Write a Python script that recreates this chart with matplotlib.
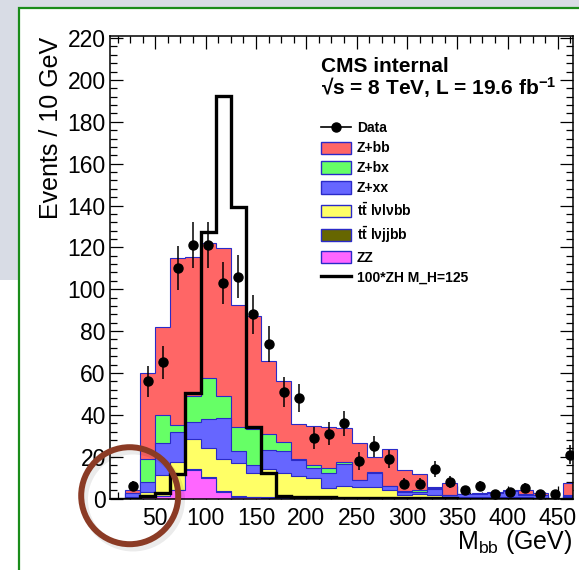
import numpy as np
import matplotlib
matplotlib.use("Agg")
import matplotlib.pyplot as plt
from matplotlib.patches import Patch, Rectangle, Circle
from matplotlib.lines import Line2D
from matplotlib.ticker import MultipleLocator

plt.rcParams['font.family'] = ['Liberation Sans', 'DejaVu Sans']
plt.rcParams['mathtext.default'] = 'regular'

# 15 GeV bins, 5 .. 470 GeV
bin_edges = np.arange(5, 471, 15)

# per-process yields (stacked bottom -> top)
zz = [0, 0, 0.5, 1, 4, 13.6, 10, 3, 0.8, 0.5, 0.3, 0.3, 0.2, 0.2, 0.1, 0.1,
      0.1, 0.1, 0.1, 0, 0, 0, 0, 0, 0, 0, 0, 0, 0, 0, 0]
tt_lvjjbb = [0, 0, 0, 0.3, 0.3, 0.4, 0.4, 0.4, 0.3, 0.3, 0.3, 0.2, 0.2, 0.2, 0.1, 0.1,
             0.1, 0.1, 0.1, 0, 0, 0, 0, 0, 0, 0, 0, 0, 0, 0, 0]
tt_lvlvbb = [0, 0.5, 2.8, 9.9, 13.3, 14.3, 13.6, 15.6, 15.9, 11.2, 13.4, 11.8, 10.4, 9.6, 4.8, 5.8,
             5.3, 5.3, 3.8, 1.7, 2.0, 1.5, 0.9, 0.7, 0.5, 0.5, 0.5, 0.5, 0.4, 0, 0.5]
z_xx = [0, 2.0, 4.7, 15.5, 14.4, 8.4, 13.9, 19.3, 5.5, 4.0, 9.2, 10.4, 7.6, 4.4, 7.0, 10.5,
        3.3, 6.5, 2.0, 1.6, 1.3, 3.0, 0.6, 1.3, 1.5, 2.0, 3.0, 1.0, 1.1, 0, 0.7]
z_bx = [0, 0, 10.8, 13.3, 3.3, 12.3, 19.5, 10.9, 11.7, 17.2, 7.6, 4.1, 0.3, 1.6, 2.4, 0.8,
        0.2, 0.5, 0.2, 0.2, 1.0, 0.3, 0.2, 0.2, 0.1, 0.1, 0.1, 0.7, 0.1, 0, 0.5]
z_bb = [0, 1.5, 41.4, 41.8, 79.5, 66.3, 64.6, 70.4, 58.3, 54.0, 35.1, 29.4, 16.8, 18.7, 19.9, 16.2,
        17.4, 7.5, 17.5, 10.1, 7.3, 0.9, 5.6, 0.0, 0.3, 0.7, 0.4, 1.8, 0.9, 0, 5.6]

# 100 x ZH, M_H = 125
signal = [0, 0, 1.2, 2.5, 11.7, 50.5, 127.2, 192.4, 139.5, 34.3, 12, 1.2, 0.8, 0.6, 0.5, 0.4,
          0.3, 0.3, 0.2, 0.2, 0.1, 0.1, 0.1, 0, 0, 0, 0, 0, 0, 0, 0]

data = [np.nan, 6, 56, 65, 110, 121, 121, 103, 106, 88, 74, 51, 48, 29, 31, 36,
        18, 25, 19, 7, 7, 14, 8, 4, 6, 2, 3, 5, 2, 2, 21]
data_err = [0, 2.4, 7.5, 8.1, 10.5, 11, 11, 10.1, 10.3, 9.4, 8.6, 7.1, 6.9, 5.4, 5.6, 6,
            4.2, 5, 4.4, 2.6, 2.6, 3.7, 2.8, 2, 2.4, 1.4, 1.7, 2.2, 1.4, 1.4, 4.6]

labels = ["ZZ", r"t$\bar{t}$ l$\nu$jjbb", r"t$\bar{t}$ l$\nu$l$\nu$bb", "Z+xx", "Z+bx", "Z+bb"]
colors = ["#ff66ff", "#666600", "#ffff66", "#6666ff", "#66ff66", "#ff6666"]
edge_col = "#2a2ac8"

W, H = 579, 570
fig = plt.figure(figsize=(W / 100, H / 100), dpi=100)

# slide background
bg = fig.add_axes([0, 0, 1, 1], zorder=0)
bg.set_xlim(0, W)
bg.set_ylim(H, 0)
bg.axis("off")
bg.add_patch(Rectangle((0, 0), W, 280, facecolor="#d8dce5", edgecolor="none"))
bg.add_patch(Rectangle((18.5, 7.5), 700, 700, facecolor="white", edgecolor="#1a8c1a", lw=1.6))

ax = fig.add_axes([110 / W, 1 - 498.5 / H, 463 / W, 462.5 / H], zorder=1)
centers = 0.5 * (bin_edges[:-1] + bin_edges[1:])

stack = np.cumsum(np.vstack([zz, tt_lvjjbb, tt_lvlvbb, z_xx, z_bx, z_bb]), axis=0)
for i in reversed(range(len(labels))):
    ax.stairs(stack[i], bin_edges, baseline=0, fill=True,
              facecolor=colors[i], edgecolor=edge_col, lw=0.8, zorder=2)

ax.stairs(signal, bin_edges, baseline=0, fill=False, color="black", lw=2.4, zorder=3)

ax.errorbar(centers, data, yerr=data_err, fmt="o", color="black", ms=6.5,
            elinewidth=1.1, capsize=0, zorder=4)

ax.set_xlim(5, 465)
ax.set_ylim(0, 221)
ax.xaxis.set_major_locator(MultipleLocator(50))
ax.xaxis.set_minor_locator(MultipleLocator(12.5))
ax.yaxis.set_major_locator(MultipleLocator(20))
ax.yaxis.set_minor_locator(MultipleLocator(4))
ax.tick_params(which="both", direction="in", top=True, right=True, width=0.9)
ax.tick_params(which="major", length=9.5, labelsize=16.5)
ax.tick_params(which="minor", length=5)
ax.tick_params(axis="x", pad=6)
ax.tick_params(axis="y", pad=3)
ax.set_xticks([50, 100, 150, 200, 250, 300, 350, 400, 450])
for s in ax.spines.values():
    s.set_linewidth(1.1)

fig.text(51 / W, 1 - 37 / H, "Events / 10 GeV", rotation=90, ha="center", va="top", fontsize=18)
fig.text(572 / W, 1 - 549 / H, r"M$_{bb}$ (GeV)", ha="right", va="baseline", fontsize=18)

fig.text(321 / W, 1 - 72 / H, "CMS internal", fontsize=15, fontweight="bold", va="baseline")
fig.text(321 / W, 1 - 95 / H, "\u221as = 8 TeV, L = 19.6 fb$^{-1}$", fontsize=15,
         fontweight="bold", va="baseline")

handles = [Line2D([], [], color="black", marker="o", ms=6.5, lw=1.2)]
names = ["Data"]
for i in reversed(range(len(labels))):
    handles.append(Patch(facecolor=colors[i], edgecolor=edge_col, lw=1))
    names.append(labels[i])
handles.append(Line2D([], [], color="black", lw=2.4))
names.append("100*ZH M_H=125")

leg = ax.legend(handles, names, loc="upper left",
                bbox_to_anchor=(320.7 / W, 1 - 121.5 / H), bbox_transform=fig.transFigure,
                frameon=False, prop={"size": 10, "weight": "bold"},
                handlelength=2.15, handleheight=1.0, handletextpad=0.45,
                labelspacing=0.43, borderpad=0, borderaxespad=0)

# annotation circle on top
ov = fig.add_axes([0, 0, 1, 1], zorder=3)
ov.set_xlim(0, W)
ov.set_ylim(H, 0)
ov.axis("off")
ov.patch.set_alpha(0)
ov.add_patch(Circle((133, 499.5), 48.5, fill=False, lw=5, ec="black", alpha=0.08))
ov.add_patch(Circle((129.7, 495.7), 48.5, fill=False, lw=4.3, ec="#8b3b25"))

fig.savefig("out.png", dpi=100)
